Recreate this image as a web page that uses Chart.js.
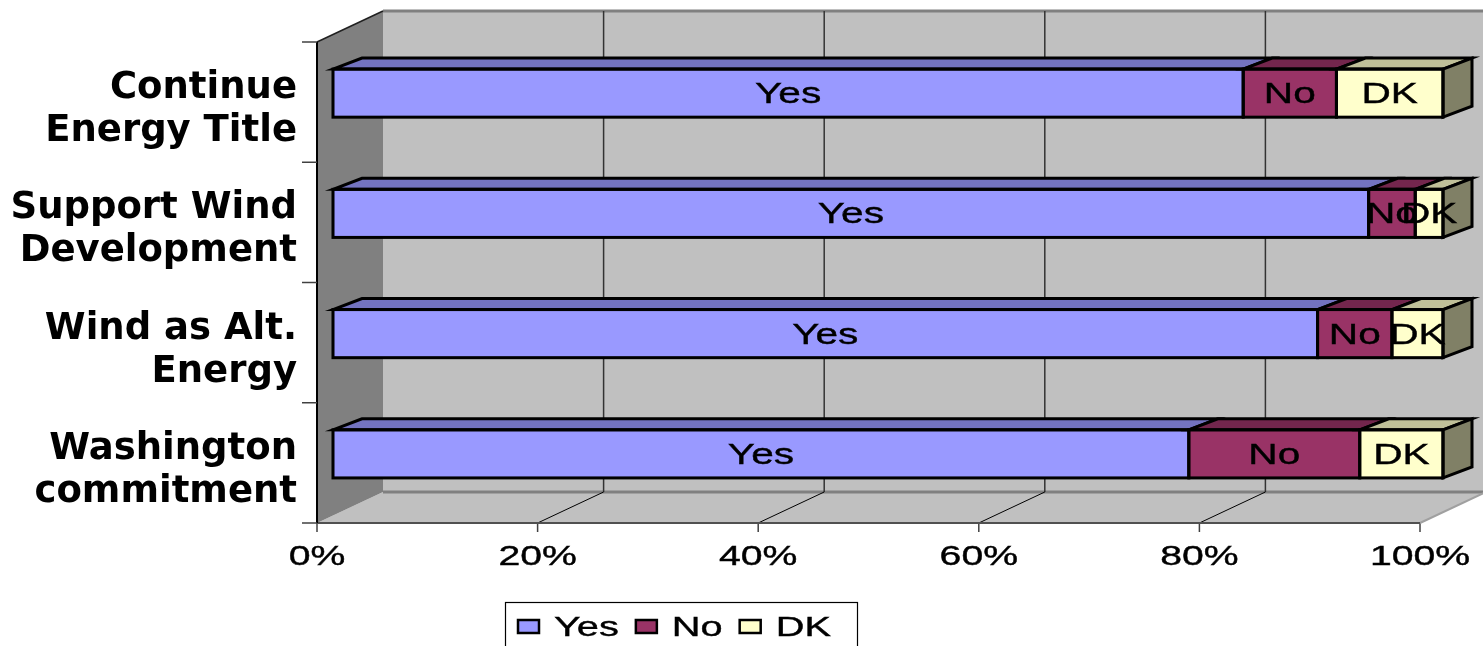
<!DOCTYPE html>
<html><head><meta charset="utf-8">
<script src="https://cdn.jsdelivr.net/npm/chart.js@4/dist/chart.umd.min.js"></script>
<style>html,body{margin:0;padding:0;background:#fff;} #wrap{width:1483px;height:646px;position:relative;}</style>
</head><body><div id="wrap"><canvas id="c"></canvas></div>
<script>
const categories = [['Continue','Energy Title'],['Support Wind','Development'],['Wind as Alt.','Energy'],['Washington','commitment']];
const yesValues = [82.0, 93.3, 88.7, 77.1];
const noValues = [8.4, 4.2, 6.7, 15.4];
const dkValues = [9.6, 2.5, 4.6, 7.5];
const seriesNames = ['Yes','No','DK'];
const xTickValues = [0,20,40,60,80,100];
const xTickLabels = ['0%','20%','40%','60%','80%','100%'];

const frontColors = ['#9999FF','#993366','#FFFFCC'];
const topColors = ['#7373C0','#73264D','#C0C099'];
const sideColors = ['#5C5C99','#5C1F3D','#808066'];

const DEPTH = {x:66, y:-31};
const BAR_SHIFT = {x:16, y:-9};
const BAR_DEPTH = {x:29, y:-11};
const BAR_XSCALE = 1110/1103;
const TEXT_FONT = '"Liberation Sans", Arial, sans-serif';

function stretchText(ctx, text, x, y, size, sx, align) {
  ctx.save();
  ctx.font = size + 'px ' + TEXT_FONT;
  ctx.textBaseline = 'alphabetic';
  ctx.textAlign = align || 'center';
  ctx.fillStyle = '#000';
  ctx.strokeStyle = '#000';
  ctx.lineWidth = 0.4;
  ctx.translate(x, y);
  ctx.scale(sx, 1);
  ctx.fillText(text, 0, 0);
  ctx.strokeText(text, 0, 0);
  ctx.restore();
}
function line(ctx, x1, y1, x2, y2, color, w) {
  ctx.beginPath(); ctx.moveTo(x1, y1); ctx.lineTo(x2, y2);
  ctx.strokeStyle = color; ctx.lineWidth = w; ctx.stroke();
}

const scene3d = {
  id: 'scene3d',
  beforeDatasetsDraw(chart) {
    const {ctx, chartArea: a, scales: {x, y}} = chart;
    const L = a.left, R = a.right, T = a.top, B = a.bottom, dx = DEPTH.x, dy = DEPTH.y;
    ctx.save();
    ctx.fillStyle = '#C0C0C0';
    ctx.fillRect(L + dx, T + dy, R - L, B - T);
    ctx.beginPath(); ctx.moveTo(L, B); ctx.lineTo(R, B); ctx.lineTo(R + dx, B + dy); ctx.lineTo(L + dx, B + dy); ctx.closePath();
    ctx.fillStyle = '#C0C0C0'; ctx.fill();
    ctx.beginPath(); ctx.moveTo(L, T); ctx.lineTo(L + dx, T + dy); ctx.lineTo(L + dx, B + dy); ctx.lineTo(L, B); ctx.closePath();
    ctx.fillStyle = '#808080'; ctx.fill();
    line(ctx, L + dx, T + dy, R + dx, T + dy, '#808080', 3);
    line(ctx, L + dx, B + dy, R + dx, B + dy, '#808080', 3);
    x.ticks.forEach((t, i) => {
      const px = x.getPixelForTick(i);
      if (i > 0) line(ctx, px + dx, T + dy, px + dx, B + dy, '#333333', 1.5);
      if (i > 0 && i < x.ticks.length - 1) line(ctx, px, B, px + dx, B + dy, '#000', 1);
      line(ctx, px, B, px, B + 9, '#404040', 1.5);
    });
    line(ctx, R, B, R + dx, B + dy, '#A0A0A0', 2);
    line(ctx, L, T, L + dx, T + dy, '#202020', 1.5);
    line(ctx, L, B, R, B, '#505050', 2);
    line(ctx, L, T, L, B, '#000', 2);
    const n = chart.data.labels.length;
    for (let i = 0; i <= n; i++) {
      const py = y.getPixelForValue(i - 0.5);
      line(ctx, L - 15, py, L, py, '#404040', 1.5);
    }
    x.ticks.forEach((t, i) => {
      stretchText(ctx, t.label, x.getPixelForTick(i), B + 42, 27, 1.45, 'center');
    });
    ctx.restore();
    ctx.save();
    ctx.translate(L + BAR_SHIFT.x, BAR_SHIFT.y);
    ctx.scale(BAR_XSCALE, 1);
    ctx.translate(-L, 0);
  },
  afterDatasetsDraw(chart) {
    const ctx = chart.ctx;
    const nd = chart.data.datasets.length;
    const bx = BAR_DEPTH.x / BAR_XSCALE, by = BAR_DEPTH.y;
    const rects = [];
    for (let d = 0; d < nd; d++) {
      const meta = chart.getDatasetMeta(d);
      meta.data.forEach((el, i) => {
        const p = el.getProps(['x', 'y', 'base', 'height'], true);
        const l = Math.min(p.x, p.base), r = Math.max(p.x, p.base);
        rects.push({d, l, r, t: p.y - p.height / 2, b: p.y + p.height / 2, cy: p.y});
      });
    }
    ctx.lineJoin = 'miter';
    rects.forEach(q => {
      ctx.beginPath();
      ctx.moveTo(q.l, q.t); ctx.lineTo(q.l + bx, q.t + by); ctx.lineTo(q.r + bx, q.t + by); ctx.lineTo(q.r, q.t); ctx.closePath();
      ctx.fillStyle = topColors[q.d]; ctx.fill();
      ctx.strokeStyle = '#000'; ctx.lineWidth = 3; ctx.stroke();
      if (q.d === nd - 1) {
        ctx.beginPath();
        ctx.moveTo(q.r, q.t); ctx.lineTo(q.r + bx, q.t + by); ctx.lineTo(q.r + bx, q.b + by); ctx.lineTo(q.r, q.b); ctx.closePath();
        ctx.fillStyle = sideColors[q.d]; ctx.fill();
        ctx.stroke();
      }
    });
    rects.forEach(q => {
      ctx.strokeStyle = '#000'; ctx.lineWidth = 3;
      ctx.strokeRect(q.l, q.t, q.r - q.l, q.b - q.t);
    });
    rects.forEach(q => {
      stretchText(ctx, seriesNames[q.d], (q.l + q.r) / 2, q.cy + 10, 29, 1.4 / BAR_XSCALE, 'center');
    });
    ctx.restore();
  },
  afterDraw(chart) {
    const ctx = chart.ctx;
    ctx.save();
    ctx.strokeStyle = '#000'; ctx.lineWidth = 1.2;
    ctx.strokeRect(505.5, 602.5, 352, 60);
    let cx = 518;
    const size = 28, sx = 1.42;
    chart.data.datasets.forEach((ds, i) => {
      ctx.fillStyle = ds.backgroundColor;
      ctx.fillRect(cx, 620, 21, 13);
      ctx.strokeStyle = '#000'; ctx.lineWidth = 2.5;
      ctx.strokeRect(cx, 620, 21, 13);
      const tx = cx + 21 + 15;
      stretchText(ctx, ds.label, tx, 636, size, sx, 'left');
      ctx.font = size + 'px ' + TEXT_FONT;
      cx = tx + ctx.measureText(ds.label).width * sx + 17;
    });
    ctx.restore();
  }
};

new Chart(document.getElementById('c'), {
  type: 'bar',
  data: {
    labels: categories,
    datasets: [
      {label: seriesNames[0], data: yesValues, backgroundColor: frontColors[0]},
      {label: seriesNames[1], data: noValues, backgroundColor: frontColors[1]},
      {label: seriesNames[2], data: dkValues, backgroundColor: frontColors[2]}
    ].map(ds => Object.assign(ds, {borderWidth: 0, borderSkipped: false, categoryPercentage: 1, barPercentage: 0.4, clip: false}))
  },
  options: {
    indexAxis: 'y',
    responsive: true,
    maintainAspectRatio: false,
    animation: false,
    layout: {padding: {left: 0, top: 42, right: 63, bottom: 0}},
    plugins: {legend: {display: false}, tooltip: {enabled: false}},
    scales: {
      x: {
        stacked: true, min: 0, max: 100,
        afterBuildTicks: s => { s.ticks = xTickValues.map(v => ({value: v})); },
        ticks: {display: false, callback: (v, i) => xTickLabels[i]},
        grid: {display: false, drawTicks: false},
        border: {display: false},
        afterFit: s => { s.height = 123; s.paddingLeft = 0; s.paddingRight = 0; s.paddingTop = 0; s.paddingBottom = 0; }
      },
      y: {
        stacked: true,
        ticks: {
          color: '#000', padding: 20, labelOffset: 8,
          font: {family: '"DejaVu Sans", Verdana, sans-serif', weight: 'bold', size: 37, lineHeight: 1.162}
        },
        grid: {display: false, drawTicks: false},
        border: {display: false},
        afterFit: s => { s.width = 317; s.paddingTop = 0; s.paddingBottom = 0; s.paddingLeft = 0; s.paddingRight = 0; }
      }
    }
  },
  plugins: [scene3d]
});
</script>
</body></html>
